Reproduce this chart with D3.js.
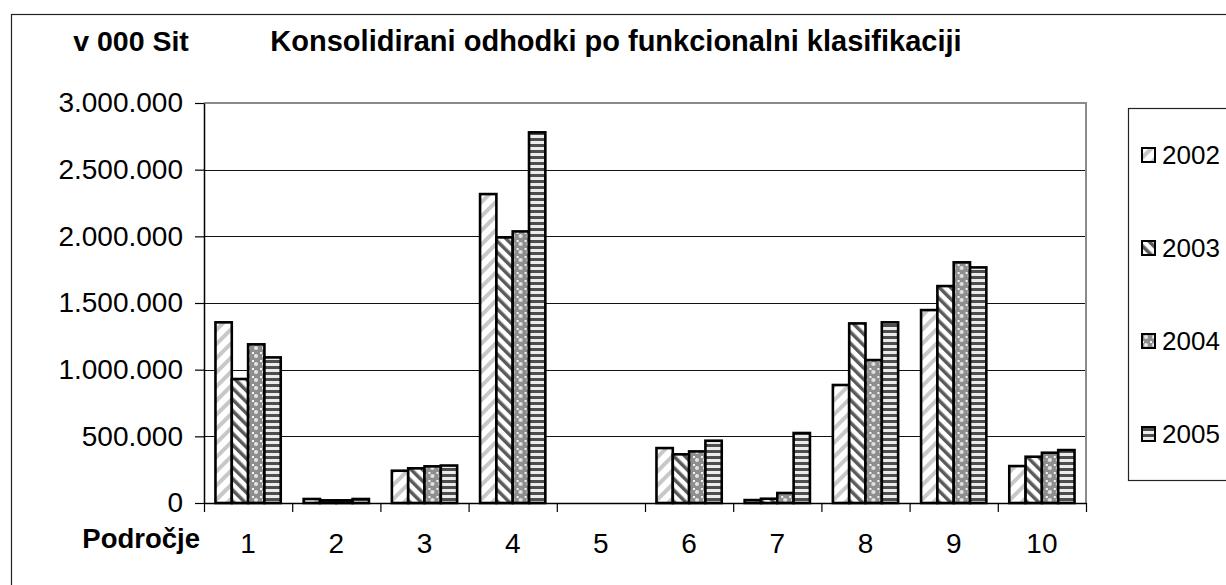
<!DOCTYPE html>
<html>
<head>
<meta charset="utf-8">
<script src="https://cdn.jsdelivr.net/npm/d3@7"></script>
<style>
  body { margin: 0; background: #fff; }
  svg { display: block; font-family: "Liberation Sans", Arial, sans-serif; }
</style>
</head>
<body>
<div id="wrapper"></div>
<script>

// data

const categories = ["1", "2", "3", "4", "5", "6", "7", "8", "9", "10"];
const years = ["2002", "2003", "2004", "2005"];

const values2002 = [1355000, 30000, 242000, 2317000, 0, 412000, 22000, 885000, 1447000, 277000];
const values2003 = [930000, 20000, 260000, 1992000, 0, 365000, 32000, 1347000, 1627000, 347000];
const values2004 = [1190000, 20000, 275000, 2037000, 0, 387000, 75000, 1072000, 1805000, 377000];
const values2005 = [1092000, 30000, 281000, 2780000, 0, 467000, 525000, 1355000, 1767000, 397000];

const yTicks = [0, 500000, 1000000, 1500000, 2000000, 2500000, 3000000];

const seriesValues = [values2002, values2003, values2004, values2005];
const rows = categories.map((c, i) => ({
  cat: c,
  vals: years.map((y, j) => ({ year: y, value: seriesValues[j][i] }))
}));

// dimensions

const dms = {
  width: 1226,
  height: 585,
  plot: { left: 204, top: 103, right: 1086, bottom: 503 }
};

const svg = d3.select("#wrapper")
  .append("svg")
    .attr("width", dms.width)
    .attr("height", dms.height);

// patterns

const defs = svg.append("defs");

function stripePattern(id, angle, size, stripeW, color) {
  const p = defs.append("pattern")
    .attr("id", id)
    .attr("patternUnits", "userSpaceOnUse")
    .attr("width", size)
    .attr("height", size)
    .attr("patternTransform", `rotate(${angle})`);
  p.append("rect").attr("width", size).attr("height", size).attr("fill", "#fff");
  p.append("rect").attr("width", stripeW).attr("height", size).attr("fill", color);
}

stripePattern("p2002", 45, 10, 4, "#c8c8c8");
stripePattern("p2003", -45, 8, 3.5, "#5a5a5a");

const p4 = defs.append("pattern")
  .attr("id", "p2004")
  .attr("patternUnits", "userSpaceOnUse")
  .attr("width", 8)
  .attr("height", 8);
p4.append("rect").attr("width", 8).attr("height", 8).attr("fill", "#8e8e8e");
p4.append("circle").attr("cx", 4).attr("cy", 4).attr("r", 2).attr("fill", "#e6e6e6");
p4.append("rect").attr("x", 0).attr("y", 0).attr("width", 2).attr("height", 2).attr("fill", "#f4f4f4");

const p5 = defs.append("pattern")
  .attr("id", "p2005")
  .attr("patternUnits", "userSpaceOnUse")
  .attr("width", 6)
  .attr("height", 6);
p5.append("rect").attr("width", 6).attr("height", 6).attr("fill", "#ececec");
p5.append("rect").attr("width", 6).attr("height", 3).attr("fill", "#4e4e4e");

const fillFor = d3.scaleOrdinal()
  .domain(years)
  .range(years.map(y => `url(#p${y})`));

// outer frame

svg.append("rect")
  .attr("x", 11.5)
  .attr("y", 14.5)
  .attr("width", 1400)
  .attr("height", 800)
  .attr("fill", "none")
  .attr("stroke", "#222")
  .attr("stroke-width", 1.2);

// scales

const yScale = d3.scaleLinear()
  .domain([0, 3000000])
  .range([dms.plot.bottom, dms.plot.top]);

const x0 = d3.scaleBand()
  .domain(categories)
  .range([dms.plot.left, dms.plot.right])
  .padding(0);

const gap = x0.bandwidth() * 0.13;
const x1 = d3.scaleBand()
  .domain(years)
  .range([gap, x0.bandwidth() - gap]);

const xEdges = d3.scaleLinear()
  .domain([0, categories.length])
  .range([dms.plot.left, dms.plot.right]);

// gridlines

svg.append("g")
  .selectAll("line")
  .data(yTicks.filter(t => t > 0 && t < 3000000))
  .join("line")
    .attr("x1", dms.plot.left)
    .attr("x2", dms.plot.right)
    .attr("y1", d => Math.round(yScale(d)) + 0.5)
    .attr("y2", d => Math.round(yScale(d)) + 0.5)
    .attr("stroke", "#111")
    .attr("stroke-width", 1);

// plot area border (top and right)

svg.append("path")
  .attr("d", `M${dms.plot.left},${dms.plot.top}H${dms.plot.right}V${dms.plot.bottom}`)
  .attr("fill", "none")
  .attr("stroke", "#8a8a8a")
  .attr("stroke-width", 2);

// bars

svg.append("g")
  .selectAll("g")
  .data(rows)
  .join("g")
    .attr("transform", d => `translate(${x0(d.cat)},0)`)
  .selectAll("rect")
  .data(d => d.vals.filter(v => v.value > 0))
  .join("rect")
    .attr("x", d => x1(d.year))
    .attr("y", d => yScale(d.value))
    .attr("width", x1.bandwidth())
    .attr("height", d => yScale(0) - yScale(d.value))
    .attr("fill", d => fillFor(d.year))
    .attr("stroke", "#000")
    .attr("stroke-width", 2.6);

// axes

const fmt = d3.formatLocale({
  decimal: ",",
  thousands: ".",
  grouping: [3],
  currency: ["", ""]
}).format(",");

const yAxis = svg.append("g")
  .attr("transform", `translate(${dms.plot.left},0)`)
  .call(d3.axisLeft(yScale)
    .tickValues(yTicks)
    .tickFormat(fmt)
    .tickSize(9)
    .tickSizeOuter(0)
    .tickPadding(12));
yAxis.select(".domain").attr("stroke", "#000").attr("stroke-width", 1.5);
yAxis.selectAll(".tick line").attr("stroke", "#000").attr("stroke-width", 1.2);
yAxis.selectAll("text")
  .attr("font-size", 28)
  .attr("font-family", "Liberation Sans, Arial, sans-serif")
  .attr("fill", "#000");

const xAxis = svg.append("g")
  .attr("transform", `translate(0,${dms.plot.bottom})`)
  .call(d3.axisBottom(xEdges)
    .ticks(categories.length)
    .tickFormat("")
    .tickSize(9)
    .tickSizeOuter(0));
xAxis.select(".domain").attr("stroke", "#000").attr("stroke-width", 1.5);
xAxis.selectAll(".tick line").attr("stroke", "#000").attr("stroke-width", 1.2);

const xLabels = svg.append("g")
  .attr("transform", `translate(0,${dms.plot.bottom})`)
  .call(d3.axisBottom(x0).tickSize(0).tickPadding(30));
xLabels.select(".domain").remove();
xLabels.selectAll("text")
  .attr("font-size", 28)
  .attr("font-family", "Liberation Sans, Arial, sans-serif")
  .attr("fill", "#000");

// titles

svg.append("text")
  .attr("x", 131)
  .attr("y", 51)
  .attr("text-anchor", "middle")
  .attr("font-size", 28.5)
  .attr("font-weight", "bold")
  .text("v 000 Sit");

svg.append("text")
  .attr("x", 616)
  .attr("y", 51)
  .attr("text-anchor", "middle")
  .attr("font-size", 29)
  .attr("font-weight", "bold")
  .text("Konsolidirani odhodki po funkcionalni klasifikaciji");

svg.append("text")
  .attr("x", 200)
  .attr("y", 548)
  .attr("text-anchor", "end")
  .attr("font-size", 27.5)
  .attr("font-weight", "bold")
  .text("Področje");

// legend

const legend = svg.append("g");
legend.append("rect")
  .attr("x", 1128.5)
  .attr("y", 108.5)
  .attr("width", 200)
  .attr("height", 372)
  .attr("fill", "#fff")
  .attr("stroke", "#222")
  .attr("stroke-width", 1.2);

const legendY = d3.scalePoint()
  .domain(years)
  .range([155, 434]);

const item = legend.selectAll("g.item")
  .data(years)
  .join("g")
    .attr("class", "item")
    .attr("transform", d => `translate(1142,${legendY(d)})`);
item.append("rect")
  .attr("x", 0)
  .attr("y", -7)
  .attr("width", 13)
  .attr("height", 14)
  .attr("fill", d => fillFor(d))
  .attr("stroke", "#000")
  .attr("stroke-width", 2);
item.append("text")
  .attr("x", 20)
  .attr("y", 9)
  .attr("font-size", 26)
  .text(d => d);

</script>
</body>
</html>
